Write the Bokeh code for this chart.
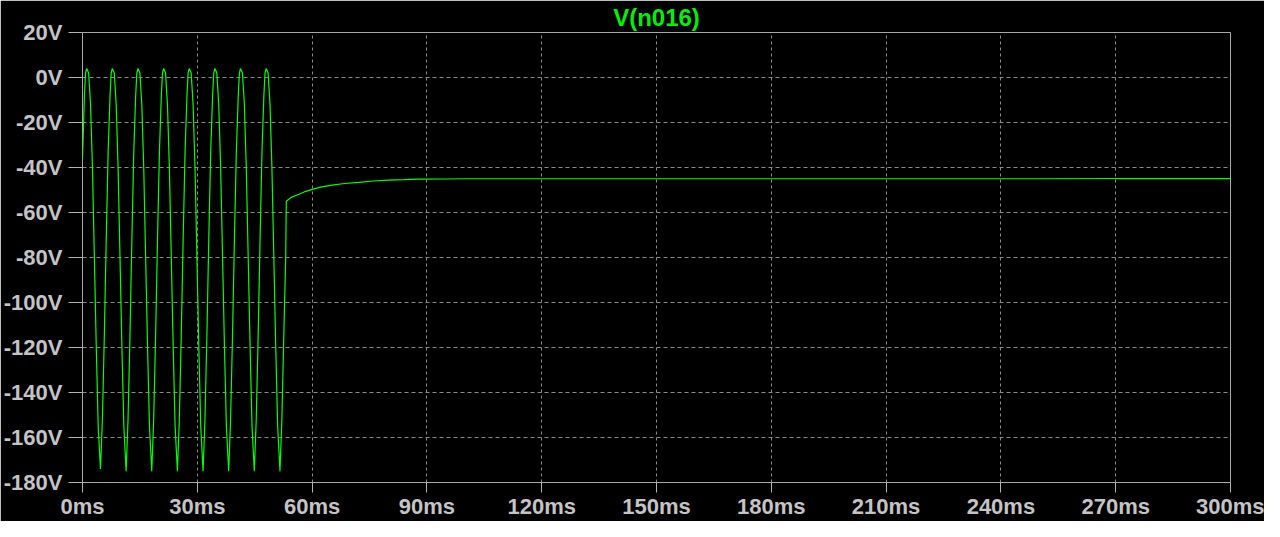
from bokeh.plotting import figure
from bokeh.models import Range1d, FixedTicker
from bokeh.embed import file_html
from bokeh.resources import INLINE

# ---- data ----
t_ms = [0.0, 0.5, 0.8,
        1.1, 1.6, 2.1, 2.6, 3.1, 3.6, 4.1, 4.7, 5.2, 5.7, 6.2, 6.7, 7.2, 7.5,
        7.8, 8.3, 8.8, 9.3, 9.8, 10.3, 10.8, 11.4, 11.9, 12.4, 12.9, 13.4, 13.9, 14.2,
        14.5, 15.0, 15.5, 16.0, 16.5, 17.0, 17.5, 18.1, 18.6, 19.1, 19.6, 20.1, 20.6, 20.9,
        21.2, 21.7, 22.2, 22.7, 23.2, 23.7, 24.2, 24.8, 25.3, 25.8, 26.3, 26.8, 27.3, 27.6,
        27.9, 28.4, 28.9, 29.4, 29.9, 30.4, 30.9, 31.5, 32.0, 32.5, 33.0, 33.5, 34.0, 34.3,
        34.6, 35.1, 35.6, 36.1, 36.6, 37.1, 37.6, 38.2, 38.7, 39.2, 39.7, 40.2, 40.7, 41.0,
        41.3, 41.8, 42.3, 42.8, 43.3, 43.8, 44.3, 44.9, 45.4, 45.9, 46.4, 46.9, 47.4, 47.7,
        48.0, 48.5, 49.0, 49.5, 50.0, 50.5, 51.0, 51.6, 52.1, 52.6, 53.1, 53.25,
        54.5, 56.6, 58.2, 60.0, 62.5, 65.2, 68.5, 72.2, 76.0, 80.0, 84.0, 87.7, 95.0,
        100.0, 150.0, 200.0, 250.0, 270.0, 300.0]

v_volts = [-36, -8, 2,
           4, 2, -12, -40, -80, -120, -155, -174, -152, -115, -72, -33, -8, 2,
           4, 2, -12, -40, -80, -120, -155, -175, -152, -115, -72, -33, -8, 2,
           4, 2, -12, -40, -80, -120, -155, -175, -152, -115, -72, -33, -8, 2,
           4, 2, -12, -40, -80, -120, -155, -175, -152, -115, -72, -33, -8, 2,
           4, 2, -12, -40, -80, -120, -155, -175, -152, -115, -72, -33, -8, 2,
           4, 2, -12, -40, -80, -120, -155, -175, -152, -115, -72, -33, -8, 2,
           4, 2, -12, -40, -80, -120, -155, -175, -152, -115, -72, -33, -8, 2,
           4, 2, -12, -40, -80, -120, -155, -175, -152, -115, -80, -55,
           -53.3, -51.9, -50.7, -49.7, -48.6, -47.8, -47.1, -46.6, -46.0, -45.6, -45.4, -45.2, -45.1,
           -45.0, -45.0, -45.0, -45.0, -44.9, -44.9]

x_ticks = [0, 30, 60, 90, 120, 150, 180, 210, 240, 270, 300]
x_tick_labels = ["0ms", "30ms", "60ms", "90ms", "120ms", "150ms", "180ms",
                 "210ms", "240ms", "270ms", "300ms"]
y_ticks = [20, 0, -20, -40, -60, -80, -100, -120, -140, -160, -180]
y_tick_labels = ["20V", "0V", "-20V", "-40V", "-60V", "-80V", "-100V",
                 "-120V", "-140V", "-160V", "-180V"]
title_text = "V(n016)"

# ---- figure ----
FONT = "Liberation Sans"
p = figure(width=1264, height=521, output_backend="svg", toolbar_location=None,
           x_range=Range1d(0, 300), y_range=Range1d(-180, 20),
           min_border_left=82, min_border_right=34, min_border_top=31,
           min_border_bottom=36, title=title_text)
p.background_fill_color = "black"
p.border_fill_color = "black"
p.outline_line_color = "#a8a8a8"
p.outline_line_width = 1

p.title.align = "center"
p.title.text_color = "#00ee00"
p.title.text_font = FONT
p.title.text_font_style = "bold"
p.title.text_font_size = "24px"
p.title.standoff = 3
p.title.offset = 0

p.line(t_ms, v_volts, line_color="#00ff00", line_width=1.2)

for ax in (p.xaxis[0], p.yaxis[0]):
    ax.axis_line_color = None
    ax.major_tick_line_color = "#b4b4b4"
    ax.major_tick_in = 0
    ax.minor_tick_line_color = None
    ax.major_label_text_color = "#c4c4c4"
    ax.major_label_text_font = FONT
    ax.major_label_text_font_style = "bold"

p.xaxis.ticker = FixedTicker(ticks=x_ticks)
p.xaxis.major_label_overrides = dict(zip(x_ticks, x_tick_labels))
p.xaxis.major_tick_out = 10
p.xaxis.major_label_standoff = 1
p.xaxis.major_label_text_font_size = "22px"

p.yaxis.ticker = FixedTicker(ticks=y_ticks)
p.yaxis.major_label_overrides = dict(zip(y_ticks, y_tick_labels))
p.yaxis.major_tick_out = 14
p.yaxis.major_label_standoff = 6
p.yaxis.major_label_text_font_size = "22px"

p.xgrid.grid_line_color = "#8a8a8a"
p.xgrid.grid_line_dash = "3 3"
p.ygrid.grid_line_color = "#8a8a8a"
p.ygrid.grid_line_dash = "4 3"

open("out.html", "w").write(file_html(p, INLINE))
